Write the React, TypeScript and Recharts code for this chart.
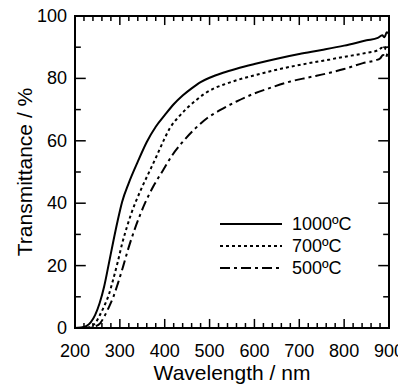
import { LineChart, Line, XAxis, YAxis, Legend, Label, ReferenceArea, ReferenceLine } from 'recharts';

// wavelength (nm) and transmittance (%)
const wl1000 = [200, 215, 225, 235, 245, 255, 265, 275, 285, 295, 305, 320, 340, 360, 380, 400, 420, 440, 460, 480, 500, 530, 560, 600, 650, 700, 750, 800, 850, 875, 885, 890, 895, 900];
const t1000 = [0, 0.2, 0.6, 1.8, 4.2, 8, 13.3, 20.3, 27.5, 34.3, 40.4, 46.5, 53.3, 59.6, 64.5, 68.2, 71.7, 74.5, 76.8, 78.8, 80.2, 81.8, 83.1, 84.6, 86.3, 87.8, 89.1, 90.5, 92.2, 93, 93.8, 93.2, 94.8, 94.2];

const wl700 = [200, 225, 235, 245, 255, 265, 275, 285, 295, 305, 316, 325, 335, 350, 367, 380, 396, 412, 430, 450, 470, 490, 510, 535, 560, 600, 650, 700, 750, 800, 850, 875, 885, 890, 895, 900];
const t700 = [0, 0.1, 0.5, 1.5, 4, 7, 10.5, 15.5, 21, 27, 32.5, 36.5, 40.3, 45.3, 50.5, 54.5, 59.6, 64.2, 67.5, 70.5, 73, 75.2, 76.8, 78.2, 79.4, 81, 82.8, 84.3, 85.6, 86.9, 88.2, 89, 89.8, 89.2, 90.6, 90.2];

const wl500 = [200, 235, 245, 256, 265, 275, 285, 295, 307, 320, 334, 345, 356, 375, 396, 415, 438, 467, 495, 523, 560, 597, 640, 680, 720, 768, 800, 842, 870, 880, 887, 893, 897, 900];
const t500 = [0, 0.1, 0.5, 1.5, 3.6, 6.5, 9.8, 14, 19.6, 26, 32, 36.2, 40, 45.5, 50.5, 55, 59.3, 63.8, 67.3, 69.8, 72.6, 75, 77.2, 79, 80.3, 81.8, 83, 84.9, 85.8, 86.4, 87.5, 86.6, 88, 87.2];

const xTicks = [200, 220, 240, 260, 280, 300, 320, 340, 360, 380, 400, 420, 440, 460, 480, 500, 520, 540, 560, 580, 600, 620, 640, 660, 680, 700, 720, 740, 760, 780, 800, 820, 840, 860, 880, 900];
const yTicks = [0, 10, 20, 30, 40, 50, 60, 70, 80, 90, 100];

const toPoints = (wl: number[], t: number[]) => wl.map((w, i) => ({ wl: w, t: t[i] }));

const series = [
  { name: '1000ºC', data: toPoints(wl1000, t1000), dash: undefined as string | undefined },
  { name: '700ºC', data: toPoints(wl700, t700), dash: '3 3' },
  { name: '500ºC', data: toPoints(wl500, t500), dash: '10 4 3 4' },
];

const BottomTick = ({ x, y, payload }: any) => {
  if (payload.value % 100 !== 0) return <g />;
  return (
    <text x={x} y={y + 29} textAnchor="middle" fontSize={18} fill="#000">
      {payload.value}
    </text>
  );
};

const LeftTick = ({ x, y, payload }: any) => {
  if (payload.value % 20 !== 0) return <g />;
  return (
    <text x={x - 8} y={y + 6} textAnchor="end" fontSize={18} fill="#000">
      {payload.value}
    </text>
  );
};

const renderLegend = () => (
  <div>
    {series.map((s) => (
      <div key={s.name} style={{ display: 'flex', alignItems: 'center', height: 22 }}>
        <svg width={62} height={22}>
          <line x1={0} x2={62} y1={11} y2={11} stroke="#000" strokeWidth={2} strokeDasharray={s.dash} />
        </svg>
        <span style={{ marginLeft: 10, fontSize: 18, color: '#000' }}>{s.name}</span>
      </div>
    ))}
  </div>
);

// tick marks drawn inward from each side of the frame (lengths in axis units)
const xTickLen = (v: number) => (v % 100 === 0 ? 2.9 : 1.6);
const yTickLen = (v: number) => (v % 20 === 0 ? 24 : 13);

const App = () => {
  return (
    <div style={{ width: 398, height: 382, fontFamily: '"Liberation Sans", Arial, sans-serif' }}>
      <LineChart width={398} height={382} margin={{ top: 8, right: 17, bottom: 27, left: 10 }}>
        <XAxis
          dataKey="wl"
          type="number"
          domain={[200, 900]}
          ticks={xTicks}
          interval={0}
          axisLine={false}
          tickLine={false}
          tickSize={0}
          tickMargin={0}
          tick={BottomTick}
          height={35}
        >
          <Label
            content={({ viewBox }: any) => (
              <text x={viewBox.x + viewBox.width / 2} y={viewBox.y + 52} textAnchor="middle" fontSize={21} fill="#000">
                Wavelength / nm
              </text>
            )}
          />
        </XAxis>
        <YAxis
          type="number"
          domain={[0, 100]}
          ticks={yTicks}
          interval={0}
          axisLine={false}
          tickLine={false}
          tickSize={0}
          tickMargin={0}
          tick={LeftTick}
          width={57}
        >
          <Label
            content={({ viewBox }: any) => {
              const cx = viewBox.x + 7;
              const cy = viewBox.y + viewBox.height / 2;
              return (
                <text x={cx} y={cy} dy="0.355em" transform={`rotate(-90, ${cx}, ${cy})`} textAnchor="middle" fontSize={21} fill="#000">
                  Transmittance / %
                </text>
              );
            }}
          />
        </YAxis>
        {xTicks.map((v) => (
          <ReferenceLine key={`b${v}`} segment={[{ x: v, y: 0 }, { x: v, y: xTickLen(v) }]} stroke="#000" strokeWidth={1.5} ifOverflow="visible" />
        ))}
        {xTicks.map((v) => (
          <ReferenceLine key={`t${v}`} segment={[{ x: v, y: 100 }, { x: v, y: 100 - xTickLen(v) }]} stroke="#000" strokeWidth={1.5} ifOverflow="visible" />
        ))}
        {yTicks.map((v) => (
          <ReferenceLine key={`l${v}`} segment={[{ x: 200, y: v }, { x: 200 + yTickLen(v), y: v }]} stroke="#000" strokeWidth={1.5} ifOverflow="visible" />
        ))}
        {yTicks.map((v) => (
          <ReferenceLine key={`r${v}`} segment={[{ x: 900, y: v }, { x: 900 - yTickLen(v), y: v }]} stroke="#000" strokeWidth={1.5} ifOverflow="visible" />
        ))}
        <ReferenceArea x1={200} x2={900} y1={0} y2={100} fill="none" stroke="#000" strokeWidth={2} ifOverflow="visible" />
        <Legend
          layout="vertical"
          align="center"
          verticalAlign="middle"
          content={renderLegend}
          wrapperStyle={{ top: 205, left: 212, width: 'auto', height: 'auto' }}
        />
        {series.map((s) => (
          <Line
            key={s.name}
            data={s.data}
            dataKey="t"
            name={s.name}
            type="monotone"
            stroke="#000"
            strokeWidth={2}
            strokeDasharray={s.dash}
            dot={false}
            activeDot={false}
            isAnimationActive={false}
          />
        ))}
      </LineChart>
    </div>
  );
};

export default App;
